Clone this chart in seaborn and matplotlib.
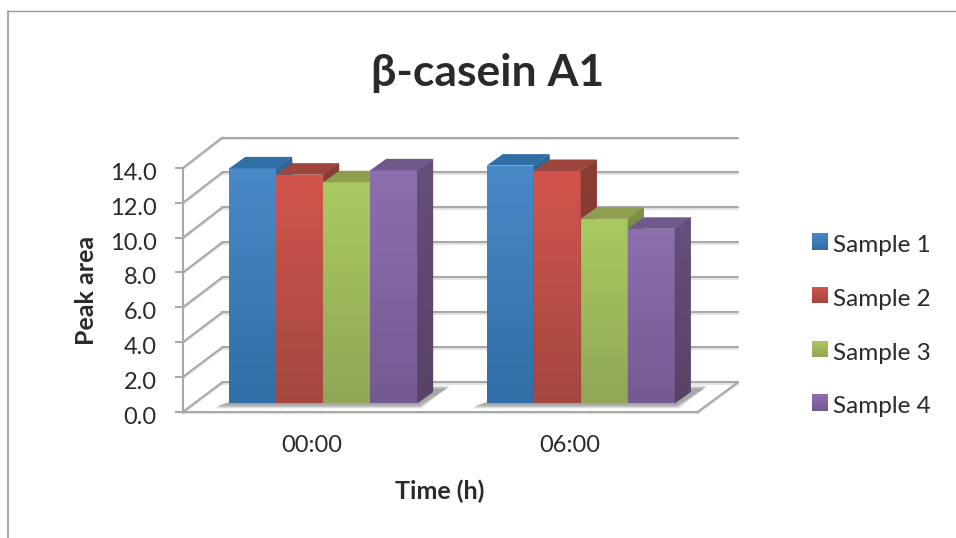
import numpy as np
import pandas as pd
import seaborn as sns
import matplotlib
matplotlib.use("Agg")
import matplotlib.pyplot as plt
import matplotlib.patheffects as pe
from matplotlib.colors import LinearSegmentedColormap
from matplotlib.lines import Line2D
from matplotlib.patches import Polygon
from matplotlib.transforms import IdentityTransform, ScaledTranslation

# Peak areas per time point
times = ["00:00", "06:00"]
samples = ["Sample 1", "Sample 2", "Sample 3", "Sample 4"]
sample_1 = [13.5, 13.66]
sample_2 = [13.14, 13.35]
sample_3 = [12.7, 10.6]
sample_4 = [13.39, 10.03]
y_ticks = [0, 2, 4, 6, 8, 10, 12, 14]

# Face shades per sample: front top, front bottom, top face, side top, side bottom
front_top = ["#4a89c8", "#d2554d", "#a9ca60", "#8d6eae"]
front_bottom = ["#316da6", "#a34840", "#92a656", "#745a93"]
top_face = ["#326ea6", "#9e463e", "#8ea050", "#70588c"]
side_top = ["#2f6795", "#8a3d35", "#7d9046", "#654f7c"]
side_bottom = ["#2a5a85", "#7a352f", "#6e7e3e", "#584265"]

W, H = 956, 538
GRID = "#a8a8a8"
INK = "#2a2a2a"

sns.set_theme(style="white")
plt.rcParams["font.family"] = ["Lato", "DejaVu Sans"]

fig = plt.figure(figsize=(W / 100, H / 100), dpi=100, facecolor="white")


def rect(x0, y0, x1, y1):
    return [x0 / W, 1 - y1 / H, (x1 - x0) / W, (y1 - y0) / H]


line_fx = [pe.SimpleLineShadow(offset=(0, -1.1), alpha=0.22, shadow_color="#888888"), pe.Normal()]

# Back wall carrying the gridlines
ax_wall = fig.add_axes(rect(222.3, 137.5, 738, 382.3), zorder=0)
ax_wall.set_xlim(-0.5, 1.5)
ax_wall.set_ylim(0, 14)
ax_wall.patch.set_visible(False)
ax_wall.set_yticks(y_ticks)
ax_wall.set_xticks([])
ax_wall.tick_params(left=False, labelleft=False, bottom=False, labelbottom=False)
ax_wall.grid(axis="y", color=GRID, lw=1.5, path_effects=line_fx)
ax_wall.set_axisbelow(True)
for s in ax_wall.spines.values():
    s.set_visible(False)
for gl in ax_wall.get_ygridlines():
    gl.set_clip_on(False)

# Front plane carrying the axes, ticks and labels
ax_front = fig.add_axes(rect(183, 168, 698, 411.7), zorder=1)
ax_front.set_xlim(-0.5, 1.5)
ax_front.set_ylim(0, 14)
ax_front.patch.set_visible(False)
ax_front.set_yticks(y_ticks)
ax_front.set_yticklabels([f"{v:.1f}" for v in y_ticks], fontsize=17, color=INK)
ax_front.set_xticks(range(len(times)))
ax_front.set_xticklabels(times, fontsize=17, color=INK)
ax_front.tick_params(axis="y", left=True, length=6, width=1.5, color=GRID, pad=13)
ax_front.tick_params(axis="x", bottom=False, length=0, pad=17)
nudge = ScaledTranslation(0, -3.5 / 100, fig.dpi_scale_trans)
for lab in ax_front.get_yticklabels():
    lab.set_transform(lab.get_transform() + nudge)
for name, s in ax_front.spines.items():
    s.set_visible(name in ("left", "bottom"))
    s.set_color(GRID)
    s.set_linewidth(1.5)
    s.set_path_effects(line_fx)

ax_front.set_xlabel("Time (h)", fontsize=18, fontweight="bold", color=INK, va="center")
ax_front.xaxis.set_label_coords((440 - 183) / 515, (411.7 - 491) / 243.7)
ax_front.set_ylabel("Peak area", fontsize=18, fontweight="bold", color=INK, va="center")
ax_front.yaxis.set_label_coords((86 - 183) / 515, (411.7 - 290) / 243.7)

# Left wall diagonals and the right edge of the floor
to_px_f = ax_front.transData.transform
to_px_w = ax_wall.transData.transform
for v in y_ticks:
    a, b = to_px_f((-0.5, v)), to_px_w((-0.5, v))
    ax_front.add_line(Line2D([a[0], b[0]], [a[1], b[1]], transform=IdentityTransform(), color=GRID,
                             lw=1.5, clip_on=False, path_effects=line_fx))
a, b = to_px_f((1.5, 0)), to_px_w((1.5, 0))
ax_front.add_line(Line2D([a[0], b[0]], [a[1], b[1]], transform=IdentityTransform(), color=GRID,
                         lw=1.5, clip_on=False, path_effects=line_fx))

# Bars sit part way into the depth of the plot box
df = pd.DataFrame({
    "Time": np.tile(times, len(samples)),
    "Sample": np.repeat(samples, len(times)),
    "Peak area": sample_1 + sample_2 + sample_3 + sample_4,
})
ax = fig.add_axes(rect(190, 159.7, 705, 403.3), zorder=2)
sns.barplot(data=df, x="Time", y="Peak area", hue="Sample", order=times, hue_order=samples,
            palette=front_top, width=0.73, gap=0, saturation=1, linewidth=0, errorbar=None, ax=ax)
group_step = 257.5
left = -(323.2 - 190) / group_step
ax.set_xlim(left, left + 515 / group_step)
ax.set_ylim(0, 14)
ax.set_axis_off()

DX, DY = 16, 11.5
bars = []
for i, cont in enumerate(ax.containers):
    for bar in cont:
        bars.append((bar.get_x(), i, bar))
bars.sort(key=lambda t: t[0])

# Soft floor shadow below each group of bars
for g in range(len(times)):
    group = bars[g * len(samples):(g + 1) * len(samples)]
    p0 = ax.transData.transform((group[0][2].get_x(), 0))
    p1 = ax.transData.transform((group[-1][2].get_x() + group[-1][2].get_width(), 0))
    for grow, alpha in zip((2.5, 1.5, 0.5, -0.5), (0.22, 0.28, 0.32, 0.36)):
        ax.add_patch(Polygon([(p0[0] - 12 - grow, p0[1] - 2.5 - grow), (p1[0] + 2 + grow, p1[1] - 2.5 - grow),
                              (p1[0] + 30 + grow, p1[1] + 15 + grow), (p1[0] + 10, p1[1] + 15 + grow),
                              (p0[0], p0[1] + 1)],
                             closed=True, transform=IdentityTransform(), fc="#8c8c8c", ec="none",
                             alpha=alpha, zorder=1, clip_on=False))

# Paint left to right so each block covers its left neighbour's side
to_data = ax.transData.inverted().transform
z = 3
for _, i, bar in bars:
    x0, x1 = bar.get_x(), bar.get_x() + bar.get_width()
    h = bar.get_height()
    bar.set_zorder(z)
    cmap = LinearSegmentedColormap.from_list("f", [front_top[i], front_bottom[i]])
    im = ax.imshow(np.linspace(0, 1, 64)[:, None], extent=(x0, x1, 0, h), origin="upper", aspect="auto",
                   cmap=cmap, zorder=z + 0.1, interpolation="bilinear")
    im.set_clip_path(bar)
    bl = ax.transData.transform((x0, 0))
    tr = ax.transData.transform((x1, h))
    ax.add_patch(Polygon([(bl[0], tr[1]), (tr[0], tr[1]), (tr[0] + DX, tr[1] + DY), (bl[0] + DX, tr[1] + DY)],
                         closed=True, transform=IdentityTransform(), fc=top_face[i], ec="none",
                         zorder=z + 0.2, clip_on=False))
    # Side face: same vertical fade, clipped to its parallelogram
    side = LinearSegmentedColormap.from_list("s", [side_top[i], side_bottom[i]])
    outline = Polygon([(tr[0], tr[1]), (tr[0] + DX, tr[1] + DY), (tr[0] + DX, bl[1] + DY), (tr[0], bl[1])],
                      closed=True, transform=IdentityTransform(), fc=side(0.5), ec="none",
                      zorder=z + 0.3, clip_on=False)
    ax.add_patch(outline)
    low = to_data((tr[0], bl[1]))
    high = to_data((tr[0] + DX, tr[1] + DY))
    sim = ax.imshow(np.linspace(0, 1, 64)[:, None], extent=(low[0], high[0], low[1], high[1]), origin="upper",
                    aspect="auto", cmap=side, zorder=z + 0.4, interpolation="bilinear")
    sim.set_clip_path(outline)
    sim.set_clip_on(True)
    z += 1
ax.set_xlim(left, left + 515 / group_step)
ax.set_ylim(0, 14)

sns.move_legend(ax, loc="upper left", bbox_to_anchor=(812 / W, 1 - 233 / H), bbox_transform=fig.transFigure,
                title=None, frameon=False, fontsize=17.5, labelspacing=1.345, handlelength=0.62, handleheight=0.66,
                handletextpad=0.25, borderpad=0, borderaxespad=0, labelcolor=INK)

# Shade the legend swatches with the same front gradient
fig.canvas.draw()
leg = ax.get_legend()
for t in leg.get_texts():
    t.set_position((0, -2.2))
for i, handle in enumerate(leg.legend_handles):
    bb = handle.get_window_extent()
    sw = fig.add_axes([bb.x0 / W, bb.y0 / H, bb.width / W, bb.height / H], zorder=5)
    cmap = LinearSegmentedColormap.from_list("l", [front_top[i], front_bottom[i]])
    sw.imshow(np.linspace(0, 1, 32)[:, None], aspect="auto", cmap=cmap, interpolation="bilinear")
    sw.set_axis_off()

fig.suptitle("β-casein A1", x=488 / W, y=1 - 73 / H, va="center", ha="center",
             fontsize=32, fontweight="bold", color=INK)

# Chart-area outline along the top and left
fig.add_artist(Line2D([8 / W, 8 / W], [0, 1 - 10.5 / H], color="#9a9a9a", lw=1.2))
fig.add_artist(Line2D([8 / W, 1], [1 - 10.5 / H, 1 - 10.5 / H], color="#9a9a9a", lw=1.0))

fig.savefig("out.png", dpi=100, facecolor="white")
